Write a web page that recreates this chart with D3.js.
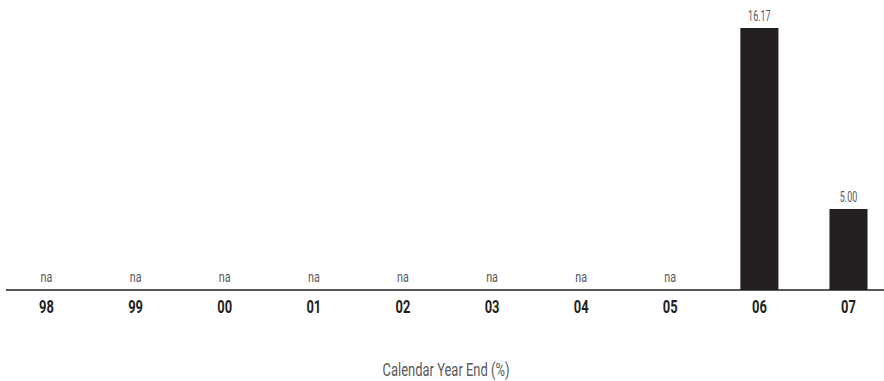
<!DOCTYPE html>
<html>
<head>
<meta charset="utf-8">
<script src="https://cdn.jsdelivr.net/npm/d3@7"></script>
<style>
  html, body { margin: 0; padding: 0; background: #fff; }
  svg text { font-family: Roboto, "DejaVu Sans", sans-serif; }
</style>
</head>
<body>
<svg id="chart" width="884" height="381"></svg>
<script>
// Calendar-year returns; null means not available
const years = ["98", "99", "00", "01", "02", "03", "04", "05", "06", "07"];
const returns = [null, null, null, null, null, null, null, null, 16.17, 5.00];
const axisTitle = "Calendar Year End (%)";

const svg = d3.select("#chart");
const baseY = 290;

const x = d3.scaleBand()
  .domain(years)
  .range([2, 893])
  .paddingInner(0.573)
  .paddingOuter(0.286);

const y = d3.scaleLinear()
  .domain([0, 16.17])
  .range([baseY, 28]);

const data = years.map((yr, i) => ({ yr, v: returns[i] }));

// bars
svg.append("g")
  .selectAll("rect")
  .data(data.filter(d => d.v !== null))
  .join("rect")
  .attr("x", d => x(d.yr))
  .attr("width", x.bandwidth())
  .attr("y", d => y(d.v))
  .attr("height", d => baseY - y(d.v))
  .attr("fill", "#231f20");

// value labels (narrowed horizontally for a condensed look)
svg.append("g")
  .selectAll("text")
  .data(data)
  .join("text")
  .attr("transform", d => {
    const cx = x(d.yr) + x.bandwidth() / 2;
    const by = d.v === null ? 282 : y(d.v) - 7;
    const sx = d.v === null ? 0.72 : 0.58;
    return `translate(${cx},${by}) scale(${sx},1)`;
  })
  .attr("text-anchor", "middle")
  .attr("font-size", d => d.v === null ? 15 : 15.5)
  .attr("fill", "#58595b")
  .text(d => d.v === null ? "na" : d.v.toFixed(2));

// category axis
const axis = svg.append("g")
  .attr("transform", `translate(0,${baseY})`)
  .call(d3.axisBottom(x).tickSize(0).tickPadding(11));
axis.select(".domain")
  .attr("d", `M6,0H884`)
  .attr("stroke", "#231f20")
  .attr("stroke-width", 1.5);
axis.selectAll(".tick text")
  .attr("font-family", null)
  .attr("font-size", 17.5)
  .attr("font-weight", "bold")
  .attr("fill", "#231f20")
  .attr("transform", "scale(0.74,1)");

// axis title
svg.append("text")
  .attr("transform", "translate(446,376) scale(0.7,1)")
  .attr("text-anchor", "middle")
  .attr("font-size", 18.5)
  .attr("fill", "#58595b")
  .text(axisTitle);
</script>
</body>
</html>
